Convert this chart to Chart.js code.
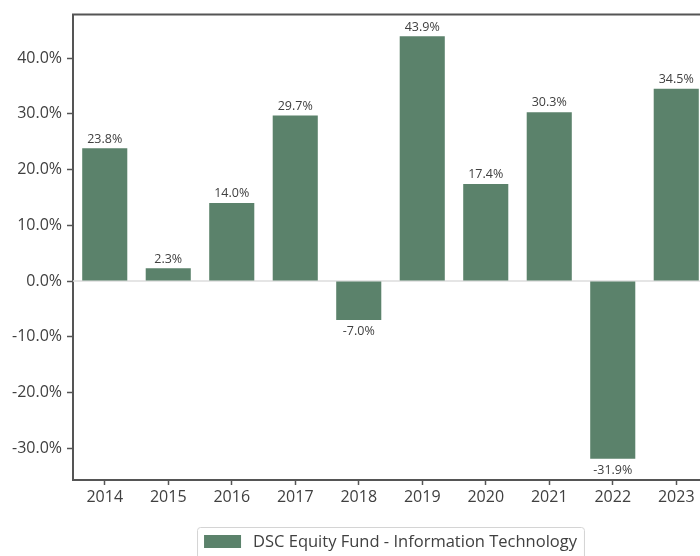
<!DOCTYPE html>
<html>
<head>
<meta charset="utf-8">
<script src="https://cdn.jsdelivr.net/npm/chart.js@4.4.0/dist/chart.umd.min.js"></script>
<style>
  html, body { margin: 0; padding: 0; background: #fff; overflow: hidden; }
  #wrap { width: 710px; height: 570px; }
</style>
</head>
<body>
<div id="wrap"><canvas id="chart"></canvas></div>
<script>
// Annual returns
const years = ['2014', '2015', '2016', '2017', '2018', '2019', '2020', '2021', '2022', '2023'];
const returns = [23.8, 2.3, 14.0, 29.7, -7.0, 43.9, 17.4, 30.3, -31.9, 34.5];
const seriesLabel = 'DSC Equity Fund - Information Technology';
const yMin = -35.7;
const yMax = 47.8;

const BAR_COLOR = '#5b826b';
const AXIS_COLOR = '#555555';
const TEXT_COLOR = '#404040';
const FONT = "'Open Sans', 'Noto Sans', sans-serif";

// top frame line + light zero line behind the bars
const framePlugin = {
    id: 'frame',
    beforeDatasetsDraw(chart) {
        const { ctx, chartArea } = chart;
        const y0 = chart.scales.y.getPixelForValue(0);
        ctx.save();
        ctx.strokeStyle = '#dcdcdc';
        ctx.lineWidth = 1.5;
        ctx.beginPath();
        ctx.moveTo(chartArea.left, y0);
        ctx.lineTo(chartArea.right, y0);
        ctx.stroke();
        ctx.restore();
    },
    afterDraw(chart) {
        const { ctx, chartArea } = chart;
        ctx.save();
        ctx.strokeStyle = AXIS_COLOR;
        ctx.lineWidth = 2;
        ctx.beginPath();
        ctx.moveTo(chartArea.left - 1, chartArea.top);
        ctx.lineTo(chartArea.right, chartArea.top);
        ctx.stroke();
        ctx.restore();
    },
};

// value labels above / below each bar
const valueLabels = {
    id: 'valueLabels',
    afterDatasetsDraw(chart) {
        const { ctx } = chart;
        const meta = chart.getDatasetMeta(0);
        ctx.save();
        ctx.font = '12.5px ' + FONT;
        ctx.fillStyle = TEXT_COLOR;
        ctx.textAlign = 'center';
        meta.data.forEach((bar, i) => {
            const v = returns[i];
            const txt = v.toFixed(1) + '%';
            if (v >= 0) {
                ctx.textBaseline = 'bottom';
                ctx.fillText(txt, bar.x, bar.y - 3);
            } else {
                ctx.textBaseline = 'top';
                ctx.fillText(txt, bar.x, bar.y + 5);
            }
        });
        ctx.restore();
    },
};

// boxed legend under the x axis
const boxLegend = {
    id: 'boxLegend',
    afterDraw(chart) {
        const { ctx, chartArea } = chart;
        ctx.save();
        ctx.font = '16.5px ' + FONT;
        const textW = ctx.measureText(seriesLabel).width;
        const swW = 37, swH = 13, gap = 12, pad = 7;
        const boxW = pad + swW + gap + textW + pad;
        const cx = (chartArea.left + chartArea.right) / 2;
        const left = cx - boxW / 2;
        const top = 527;
        ctx.strokeStyle = '#d4d4d4';
        ctx.lineWidth = 1;
        ctx.beginPath();
        ctx.roundRect(left + 0.5, top + 0.5, boxW, 40, 3);
        ctx.stroke();
        ctx.fillStyle = BAR_COLOR;
        ctx.fillRect(left + pad, top + 8, swW, swH);
        ctx.fillStyle = TEXT_COLOR;
        ctx.textBaseline = 'middle';
        ctx.textAlign = 'left';
        ctx.fillText(seriesLabel, left + pad + swW + gap, top + 15);
        ctx.restore();
    },
};

new Chart(document.getElementById('chart'), {
    type: 'bar',
    data: {
        labels: years,
        datasets: [{
            label: seriesLabel,
            data: returns,
            backgroundColor: BAR_COLOR,
            borderWidth: 0,
            barPercentage: 0.71,
            categoryPercentage: 1.0,
        }],
    },
    options: {
        responsive: true,
        maintainAspectRatio: false,
        animation: false,
        layout: { padding: { top: 7, right: 2, bottom: 50, left: 0 } },
        plugins: {
            legend: { display: false },
            tooltip: { enabled: false },
        },
        scales: {
            x: {
                offset: true,
                grid: {
                    offset: false,
                    drawOnChartArea: false,
                    drawTicks: true,
                    tickLength: 5,
                    tickColor: AXIS_COLOR,
                    tickWidth: 1.5,
                },
                border: { color: AXIS_COLOR, width: 2 },
                ticks: {
                    color: TEXT_COLOR,
                    font: { family: FONT, size: 16 },
                    padding: 3,
                    maxRotation: 0,
                },
                afterFit(scale) { scale.height = 40; },
            },
            y: {
                min: yMin,
                max: yMax,
                grid: {
                    drawOnChartArea: false,
                    drawTicks: true,
                    tickLength: 6,
                    tickColor: AXIS_COLOR,
                    tickWidth: 1.5,
                },
                border: { color: AXIS_COLOR, width: 2 },
                ticks: {
                    stepSize: 10,
                    includeBounds: false,
                    color: TEXT_COLOR,
                    font: { family: FONT, size: 16 },
                    padding: 5,
                    callback: (v) => v.toFixed(1) + '%',
                },
                afterFit(scale) { scale.width = 73; },
            },
        },
    },
    plugins: [framePlugin, valueLabels, boxLegend],
});
</script>
</body>
</html>
